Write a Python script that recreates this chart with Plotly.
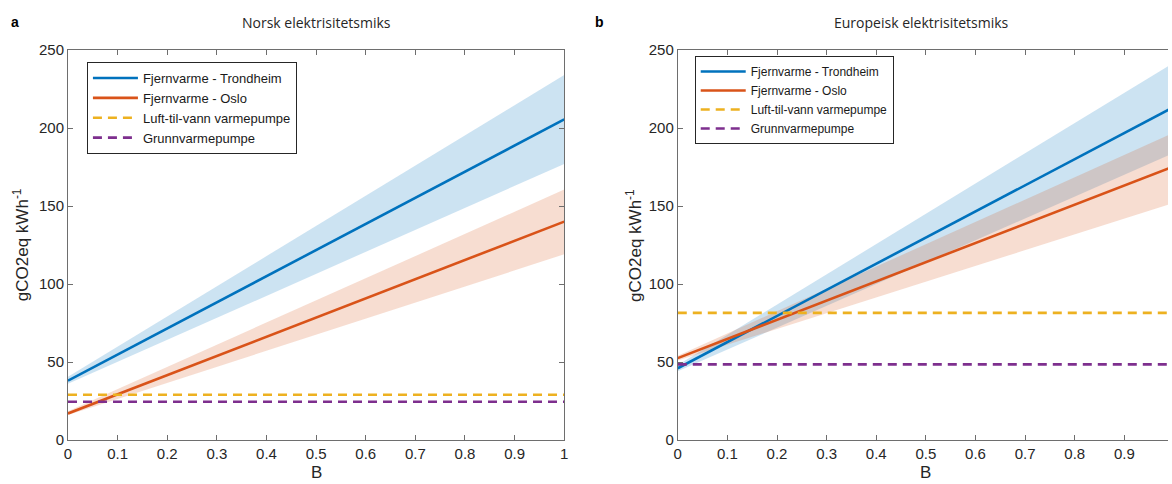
import plotly.graph_objects as go

# ---- data ----
B = [0, 1]

# Panel a: Norsk elektrisitetsmiks
a_trd = [38, 205.5]
a_trd_lo = [36, 177]
a_trd_hi = [40.5, 234]
a_osl = [17, 140]
a_osl_lo = [16, 119]
a_osl_hi = [18.5, 160.5]
a_luft = [29, 29]
a_grunn = [24.5, 24.5]

# Panel b: Europeisk elektrisitetsmiks
b_trd = [46, 213.5]
b_trd_lo = [44, 184]
b_trd_hi = [48, 242]
b_osl = [52.5, 175.5]
b_osl_lo = [51, 152]
b_osl_hi = [54, 197]
b_luft = [81.5, 81.5]
b_grunn = [48.5, 48.5]

names = ["Fjernvarme - Trondheim", "Fjernvarme - Oslo",
         "Luft-til-vann varmepumpe", "Grunnvarmepumpe"]
xticks = [0, 0.1, 0.2, 0.3, 0.4, 0.5, 0.6, 0.7, 0.8, 0.9, 1]
yticks = [0, 50, 100, 150, 200, 250]

BLUE = "#0072BD"
ORANGE = "#D95319"
YELLOW = "#EDB120"
PURPLE = "#7E2F8E"
BLUE_F = "rgba(0,114,189,0.2)"
ORANGE_F = "rgba(217,83,25,0.2)"

fig = go.Figure()


def band(x, lo, hi, color, xa, ya):
    fig.add_trace(go.Scatter(
        x=list(x) + list(x)[::-1], y=list(lo) + list(hi)[::-1],
        fill="toself", fillcolor=color, line=dict(width=0),
        mode="lines", showlegend=False, hoverinfo="skip",
        xaxis=xa, yaxis=ya))


def panel(trd, trd_lo, trd_hi, osl, osl_lo, osl_hi, luft, grunn, xa, ya, leg):
    band(B, trd_lo, trd_hi, BLUE_F, xa, ya)
    band(B, osl_lo, osl_hi, ORANGE_F, xa, ya)
    series = [(trd, BLUE, "solid"), (osl, ORANGE, "solid"),
              (luft, YELLOW, "9px,6px"), (grunn, PURPLE, "9px,6px")]
    for (vals, col, dash), nm in zip(series, names):
        fig.add_trace(go.Scatter(
            x=B, y=vals, mode="lines", name=nm,
            line=dict(color=col, width=2.6, dash=dash),
            xaxis=xa, yaxis=ya, legend=leg))


panel(a_trd, a_trd_lo, a_trd_hi, a_osl, a_osl_lo, a_osl_hi, a_luft, a_grunn,
      "x", "y", "legend")
panel(b_trd, b_trd_lo, b_trd_hi, b_osl, b_osl_lo, b_osl_hi, b_luft, b_grunn,
      "x2", "y2", "legend2")

W, H = 1172, 484
L, R, T, Bm = 68, 0, 50, 44
pw, ph = W - L - R, H - T - Bm


def px(x):
    return (x - L) / pw


def py(y):
    return 1 - (y - T) / ph


tickfont = dict(family="Liberation Sans, Arial", size=15, color="#262626")
titlefont = dict(family="Liberation Sans, Arial", size=17, color="#262626")
axis_common = dict(
    showline=True, linecolor="#6e6e6e", linewidth=1,
    ticks="inside", ticklen=5, tickcolor="#6e6e6e",
    showgrid=False, zeroline=False, tickfont=tickfont,
)

fig.update_layout(
    width=W, height=H,
    margin=dict(l=L, r=R, t=T, b=Bm),
    plot_bgcolor="white", paper_bgcolor="white",
    xaxis=dict(domain=[0, px(566)], range=[0, 1], tickvals=xticks,
               mirror="ticks", anchor="y", **axis_common),
    yaxis=dict(domain=[0, 1], range=[0, 250], tickvals=yticks,
               mirror="ticks", anchor="x", **axis_common),
    xaxis2=dict(domain=[px(680), 1], range=[0, (W - 680) / 498],
                tickvals=xticks, mirror="ticks", anchor="y2", **axis_common),
    yaxis2=dict(domain=[0, 1], range=[0, 250], tickvals=yticks,
                mirror=False, anchor="x2", **axis_common),
    legend=dict(x=px(87), y=py(62), xanchor="left", yanchor="top",
                bgcolor="white", bordercolor="#262626", borderwidth=1,
                font=dict(family="Liberation Sans, Arial", size=13, color="#1a1a1a"),
                itemwidth=45, tracegroupgap=0),
    legend2=dict(x=px(697), y=py(56), xanchor="left", yanchor="top",
                 bgcolor="white", bordercolor="#262626", borderwidth=1,
                 font=dict(family="Liberation Sans, Arial", size=12, color="#1a1a1a"),
                 itemwidth=45, tracegroupgap=0),
    showlegend=True,
)

ann_font = dict(family="Open Sans, Liberation Sans", size=14, color="#262626")
annotations = [
    dict(text="Norsk elektrisitetsmiks", x=px(317), y=py(22), font=ann_font),
    dict(text="Europeisk elektrisitetsmiks", x=px(925), y=py(22), font=ann_font),
    dict(text="<b>a</b>", x=px(15), y=py(22),
         font=dict(family="Liberation Sans, Arial", size=14, color="#000")),
    dict(text="<b>b</b>", x=px(601), y=py(22),
         font=dict(family="Liberation Sans, Arial", size=14, color="#000")),
    dict(text="B", x=px(317), y=py(472), font=titlefont),
    dict(text="B", x=px(929), y=py(472), font=titlefont),
    dict(text="gCO2eq kWh<sup>-1</sup>", x=px(21), y=py(245), textangle=-90,
         font=titlefont),
    dict(text="gCO2eq kWh<sup>-1</sup>", x=px(636), y=py(245), textangle=-90,
         font=titlefont),
]
for a in annotations:
    a.update(xref="paper", yref="paper", showarrow=False,
             xanchor="center", yanchor="middle")
fig.update_layout(annotations=annotations)

fig.write_html("out.html")
